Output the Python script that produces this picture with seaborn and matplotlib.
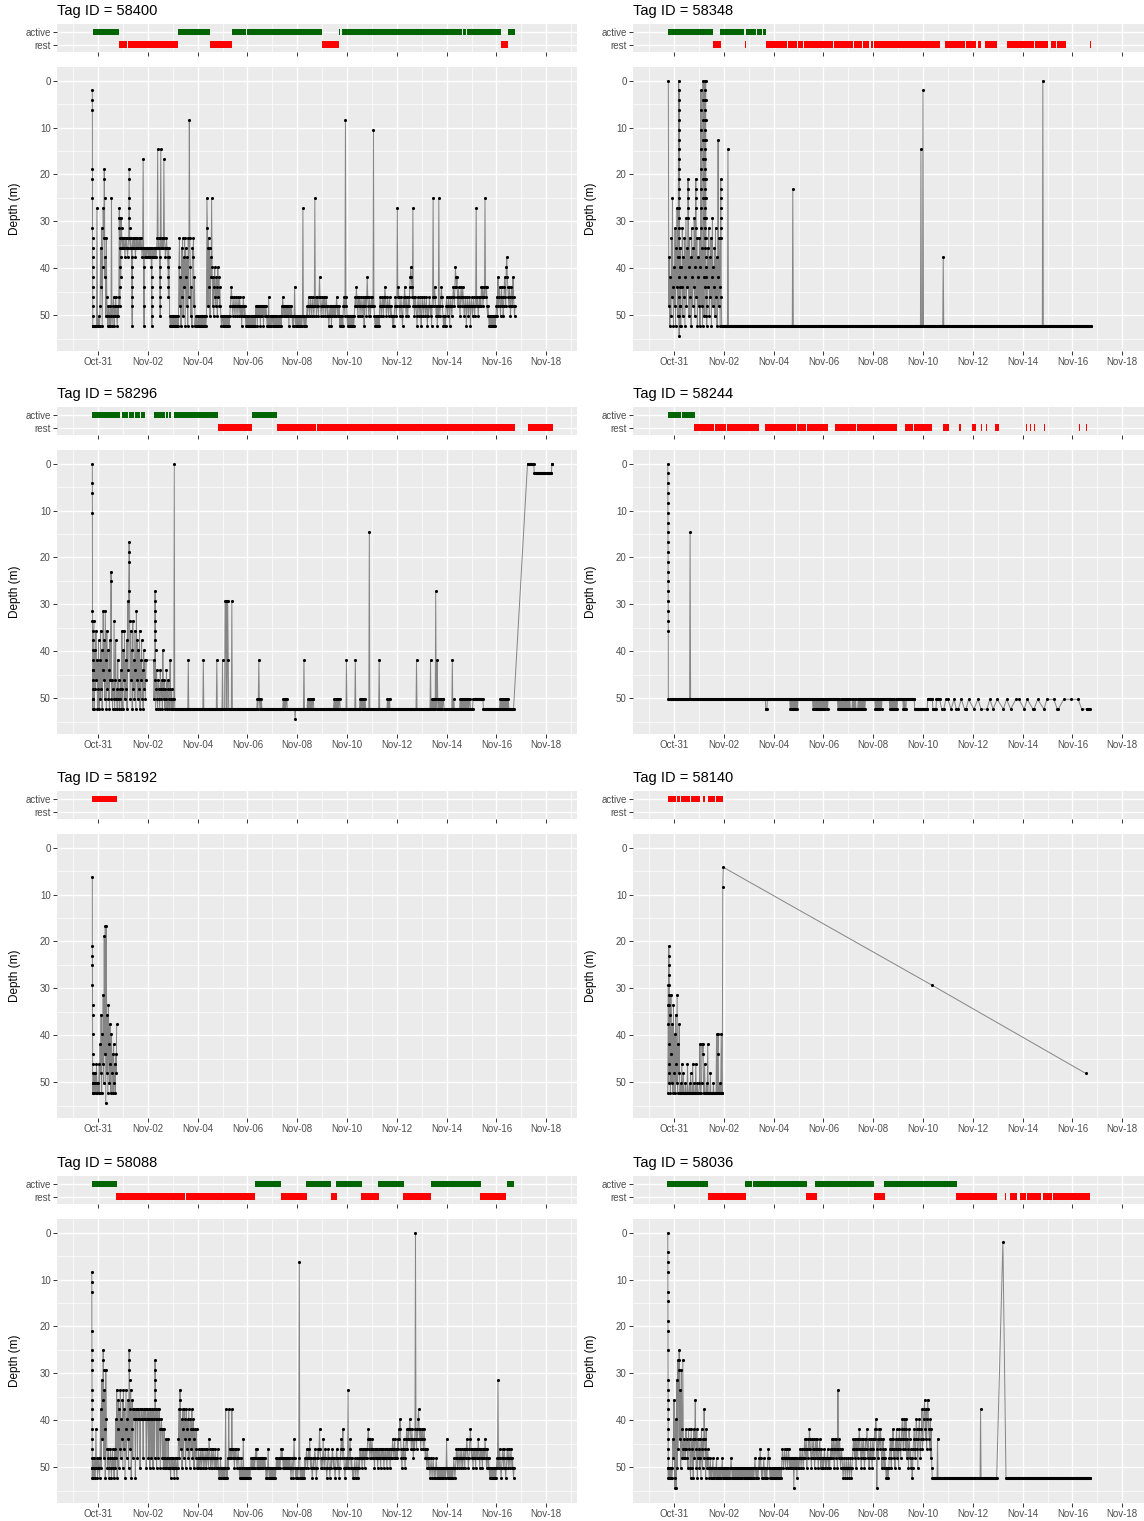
import numpy as np
import pandas as pd
import matplotlib
matplotlib.use("Agg")
import matplotlib.pyplot as plt
import matplotlib.dates as mdates
from matplotlib.ticker import FixedLocator
import seaborn as sns

# ---------------------------------------------------------------------------
# Depth records: one string per calendar day starting 30 Oct, one character per
# 30-min slot (48 per day).  Each character is a pressure-sensor count (depth =
# count * DEPTH_STEP); "." = no reading; a [...] group holds several readings
# logged within the same slot.
# ---------------------------------------------------------------------------
YEAR = 2016
DAY0 = pd.Timestamp(f"{YEAR}-10-30")
ORIGIN = pd.Timestamp(f"{YEAR}-10-31")
SLOT_MIN = 30
SLOTS_PER_DAY = 48
DEPTH_STEP = 2.092
LEVEL_CODES = "0123456789ABCDEFGHIJKLMNOPQ"

TAG_IDS = [58400, 58348, 58296, 58244, 58192, 58140, 58088, 58036]

DEPTH_58400 = [
    "." * 37 + "[1239ACFGHIJKLMNOP]PPPPPPPPDP",
    "POPP" + "NHLFPJDG[9AC]KIOGM" + "OPNOPNPOCPONMPN" + "OMNOPNO" + "M[DEFHJL]N[EGIK]H[EF]GH",
    "GHGHIGHGHIHG" + "[9ACDEF]" + "GHGH" + "[IJKLMNP]" + "HGHGHGIHGHGHHGHGHGHIH" + "8" + "[JLNP]" + "HIHIHIH",
    "HIHIHIH[JKLMNOP]IHIHIHIHIH" + "G7HGH[IJKLMNO]G7HGHGH8GHIHGHI[JKLM]HI" + "OPOPOP",
    "OPOPOPOPOPOP" + "JGNKPHMGOILGPHKNIPGM" + "4" + "GJOLPHIGNKP" + "OPOP",
    "POPOPOPOPOPOPOPOPO" + "C[FH]NGLHOIKCJNKOLJMNKLOJMKNL" + "NOPO",
    "OPOPOPOPOPOPOPO" + "NMLMNONMNONMNONMNOMNONPNOMNON" + "OPOP",
    "OPOPOPOPOPOPOPOP" + "NONPNONONPNONONPNONONO" + "POPMPOPOPO",
    "OPOPOPOPOPOPOPOPOP" + "NOMNONONONONONPNONON" + "OPOPOLOPOP",
    "OPOPOPOPOPO" + "D" + "OPOPOPO" + "NONMNONMNONMNONCNMONMNOMKMNON",
    "MNOMNMONMNONO" + "PO" + "NONPNONONONONMNONONP" + "OPOPOP" + "NMNO4NM",
    "OPOPOPOPOPOPOPO" + "NMNLMNOMNMONMNONMNPMNMOMKMNOMNONM",
    "NMN" + "5" + "NOPOPOPOPOP" + "NMNONMNOMNLMNONMNONMNONO" + "OPOPO" + "NMNO",
    "NDMLMNONMNOPNMNLMNOMNONMNLKJKLMDNMONMNOPNMNONMOP",
    "NMNONMNONMOPNONMNONPNMCNMLMNONPNOCNONMLMNOPOPOPN",
    "MNONMNPNMNONMLMNLJKLKMNLMNOMLMNLMNONMNPNMNONMNPN",
    "MNONMNONMDNMNONMNMNLMLNMLMCLMLNONOPOPOPOPOPOPOPO",
    "NMOKNMLNOMLNMONLKMNJIKLMNLMONLMNKMNON",
]

DEPTH_58348 = [
    "." * 37 + "0NIPKOGMCLP",
    "JNFPHLDOI" + "[02468ACEGIKMOQ]" + "[13579BDFHJLNP]"
    + "NHPJLFOIMGPKENHL[ABCDE]JOGMIPFKNHLEOJ[ABCDF]MGPIK",
    "NGPJ" + "[13579BDF]" + "NHP[02468ACE]KO[0123456789ABCDEFGH]L[0246ACEGIKMO]JP"
    + "NHLFOIMGPKENJLHOFMIPK6NGLP[ABCDEFG]M" + "PPPP",
    "P" * 8 + "7" + "P" * 39,
    "P" * 48,
    "P" * 37 + "B" + "P" * 10,
    "P" * 48,
    "P" * 48,
    "P" * 48,
    "P" * 48,
    "P" * 44 + "7" + "P" * 3,
    "1" + "P" * 38 + "I" + "P" * 8,
    "P" * 48,
    "P" * 48,
    "P" * 48,
    "P" * 39 + "0" + "P" * 8,
    "P" * 48,
    "P" * 37,
]

DEPTH_58296 = [
    "." * 37 + "[0235FGHIJKLMNOP]" + "LOGPJNHMKP",
    "NIPKO" + "HNJPLFMIOFKPHNJOLPIM" + "[BC]" + "OMPNOGPMIONPKOMPNOLP" + "HN",
    "PJMHOKNIPELD[89A]GOHMJPGNKOHLPFMIOJNHPKMIOLPJNKOMK..",
    "..........." + "KOM[DEFGHIJ]PNLOPMNOPLNOMPJNOMPNOLPNMOPNKOPNP",
    "OPO0" + "P" * 26 + "K" + "P" * 17,
    "P" * 11 + "K" + "P" * 25 + "K" + "P" * 10,
    "KPPPPEEPEPEKPPPPPPE" + "P" * 29,
    "P" * 19 + "OPOKOPOPO" + "P" * 20,
    "P" * 21 + "OPOPOPOO" + "P" * 15 + "Q" + "PPP",
    "P" * 13 + "K" + "P" * 6 + "OPOPOPOPOPOO" + "P" * 16,
    "P" * 23 + "OPOPOPOPOPOO" + "P" * 12 + "K",
    "P" * 16 + "K" + "P" * 8 + "OPOPOPOPOPO" + "P" * 7 + "7" + "P" * 4,
    "P" * 14 + "K" + "P" * 15 + "OPOPO" + "P" * 13,
    "P" * 38 + "K" + "P" * 9,
    "P" * 17 + "K" + "P" + "OPOPOPOPDOPKOPOPOPOPOPOO" + "P" * 5,
    "P" * 11 + "K" + "PP" + "O" + "P" * 11 + "OPOPOPOPOPOPOPOPOPOO" + "PP",
    "PPP" + "O" * 20 + "P" * 25,
    "P" * 7 + "OPOPOPOPOPOPOPOPO" + "P" * 10,
    "." * 12 + "0" * 13 + "1" * 23,
    "1" * 11 + "00",
]

DEPTH_58244 = [
    "." * 36 + "[0123456789ABCDEFGH]" + "O" * 11,
    "O" * 31 + "7" + "O" * 16,
    "O" * 48,
    "O" * 48,
    "O" * 33 + "PPP" + "O" * 12,
    "O" * 32 + "POPOPOPOPOPOPOPO",
    "O" * 28 + "POPOPOPOPOPOPOPOPOPO",
    "POPOPOPOP" + "O" * 19 + "POPOPOPOPOPOPOPOPOPO",
    "POPOPPPPOPOPOPOPPPPOPOPOPOPOPOPOPO" + "O" * 14,
    "OOOO" + "POPOPOPOPOPOPO" + "O" * 14 + "POPOPOPOPOPOPOP" + "O",
    "O" * 10 + "POPOPP" + "O" * 16 + "P" * 16,
    "P" * 9 + "O" * 10 + "P" * 7 + "O" * 7 + "...P...P...O....",
    "O.....P.....O...P...P.....O.....P.PP....O.......",
    "..P.......O.....P..........P.....O.....P.......O",
    "...........P.....O.......P.........O.....O......",
    "...P.....O..........P.P......O...........P.....O",
    "............O......P.P.........O..............O.",
    "...........O......P.........PPPPPP",
]

DEPTH_58192 = [
    "." * 37 + "[3ABCEGHJLMNOP]" + "PONPNOPMOP",
    "OPMPKNHPJMFO9L8Q8NHPGKOIMPJNLPKOMPLNI",
]

DEPTH_58140 = [
    "." * 36 + "P[EGIKMO][ABCDEFG]NHPFLOIPG",
    "NJPHMOFPKNI" + "PPOPMPPNPPPOPPPMPPPOPNPPPMPOPPPMPPOPP",
    "POKPPOKLKPPMPPPOPKPPPPNPPPPPOPPPPPJPLJPPOPPJPP42",
    "", "", "", "", "", "", "", "",
    "." * 17 + "E",
    "", "", "", "", "",
    "." * 26 + "N",
]

DEPTH_58088 = [
    "." * 36 + "[456ACDEGHIJKLMNOP]" + "ONPONPOKONP",
    "ONOPN" + "IOFLH[CDE]NGKPEJM" + "ONMPONMOPNMONPMO" + "JNGPKHOIMGNJLH",
    "OGMIPKGNJLHO[CDEF]IMGPKHNIJIJPIJINJIJIOJIJIJNIJIJIOJI",
    "JNIJOIJNIJOIJN[DEFGH]JIOJINJIKOKJKNKONKONLONOLNONOPNON",
    "ONOPNONOPNOLIN[GH]IMJOIKNILJOIMKJNILOJKMINKJOLKNMKO",
    "NOMNONMONMNOMNONMONMNOLMNONMONMNONMONONMOPOPNOPO",
    "POPOPOIPOPNOINMNMNIMNMNOMNMNONMNOPOPNPOPLPOPOPOP",
    "OPOPOPONONONONONMNMONONONONONONONONOPOPOMOPOPOPO",
    "POPOPOPONONONONONMNMNONONONONONONONOPONOPNLNOPOP",
    "OPON3OPOPOPOPOPNONMNONMNLNONOPONONMNOPONMNMKMNON",
    "ONLNONMNOPONMNOPONONMNONOPONMNONOPONMLMNKMNOPONO",
    "NOGONMLNONOPOPONOPONOPONOMNMNOMNMNOMNMNMLKLMNLMN",
    "LMNMNOMNMNMONMNMNOMNMNMONMNMNOMNMNMONMNMLMNMLNMN",
    "MNLMKLJKMNOMNLMNOMLKMLKLKJKLMKLMNLMK0LMKLJIKLKML",
    "KLKMLKMNMNOMNONOPONOPONOPOPONOPOPOPOPOPOPOPOPOPO",
    "LOPOPOPOPOPOPONOPONMNOMNONMNOMNONMNOMNMLMNONMLKM",
    "NMNOMNMNOMNMNLMNOMNMNOMNMNLMNOMNONOPOPOPOPOPOPOP",
    "ONOFNOMNOPONMNOMNOPONMNOMNONMNONOPO",
]

DEPTH_58036 = [
    "." * 36 + "[0234679ACFGHIJKLMNOP]" + "OPOPOPOPOLN",
    "HPQJQFODME[CD]LGOEKNDMNLMNKMLNOKMLOPKMOLPKNLHMOKPLN",
    "MOLNPKMOLNILMPKNOMNOPONPOPONPOPOPONPOPOPOPOPONPO",
    "POPOPOPOPOPOPONO" + "POPOPOPOPOPOPOPOPOPOPOPOPOPOPOPO",
    "POPOPOPOPOPONOPOPOPONO" + "M" + "NOPOPONOPOPOPON" + "M" + "NOPOPOPOP",
    "OPOPOPOPOPOPOPOP" + "NMNONMNONMNONMNONONONONQNONONPNO",
    "NONMNONMNONMLNMLOMNLMKLMNOLMNLMONLMNLMONMLNOMNON",
    "ONMNONONMNONONMNLMNLMOLMNLMOGMNLMONMNOPONOPONOPO",
    "NOPONOPONMLMNLMOLMNLMKLMNOLMNLMONLMLKMNLOMNLMNOL",
    "MNLKLJKQMLNKLMKLNOMLNOMNOPOPOPONMLNOLMKLNMOLMKNL",
    "MOKLMNLKJLMKJLMJKNLMOKLNMONPOMLKMNLJKMOLKJMNLKIM",
    "LJIHKLIMJHIKLMJNKO" + "P" * 10 + "L" + "P" * 19,
    "P" * 48,
    "P" * 15 + "I" + "P" * 31 + ".",
    "." * 10 + "1" + "." * 5 + "P" * 32,
    "P" * 48,
    "P" * 48,
    "P" * 35,
]

DEPTH_RECORDS = {
    58400: DEPTH_58400, 58348: DEPTH_58348, 58296: DEPTH_58296, 58244: DEPTH_58244,
    58192: DEPTH_58192, 58140: DEPTH_58140, 58088: DEPTH_58088, 58036: DEPTH_58036,
}

# ---------------------------------------------------------------------------
# Behaviour classification: (start, end) in days after 31 Oct 00:00
# ---------------------------------------------------------------------------
ACTIVE_58400 = [(-0.22, 0.85), (3.22, 4.50), (5.37, 5.95), (5.97, 7.94), (7.96, 8.99),
                (9.69, 9.71), (9.81, 11.64), (11.66, 11.79), (11.81, 14.62),
                (14.64, 14.79), (14.81, 16.20), (16.45, 16.75)]
REST_58400 = [(0.85, 0.95), (0.97, 1.18), (1.20, 2.00), (2.02, 2.15), (2.17, 3.22),
              (4.50, 4.97), (4.99, 5.37), (8.99, 9.43), (9.45, 9.55), (9.57, 9.66),
              (16.20, 16.45)]

ACTIVE_58348 = [(-0.24, 1.57), (1.85, 2.55), (2.57, 2.80), (2.91, 3.30), (3.32, 3.55),
                (3.57, 3.71)]
REST_58348 = [(1.55, 1.89), (2.87, 2.90), (3.68, 4.55), (4.57, 4.95), (4.97, 5.20),
              (5.22, 5.65), (5.68, 6.40), (6.42, 6.62), (6.64, 7.20), (7.22, 7.55),
              (7.58, 7.70), (7.73, 7.85), (7.90, 8.00), (8.05, 10.20), (10.22, 10.67),
              (10.88, 11.35), (11.38, 11.70), (11.73, 12.12), (12.19, 12.31),
              (12.49, 12.98), (13.37, 13.60), (13.62, 14.45), (14.48, 15.00),
              (15.14, 15.35), (15.38, 15.73), (16.09, 16.11), (16.45, 16.47),
              (16.58, 16.60), (16.70, 16.74)]

ACTIVE_58296 = [(-0.25, 0.89), (0.98, 1.20), (1.23, 1.45), (1.48, 1.70), (1.73, 1.89),
                (2.23, 2.70), (2.74, 2.80), (2.84, 2.94), (3.05, 4.83), (6.17, 7.18)]
REST_58296 = [(4.80, 6.20), (7.18, 8.77), (8.81, 9.26), (9.28, 16.75), (17.27, 18.27)]

ACTIVE_58244 = [(-0.24, 0.03), (0.05, 0.29), (0.31, 0.55), (0.57, 0.84)]
REST_58244 = [(0.80, 1.60), (1.63, 2.10), (2.13, 2.60), (2.63, 3.41), (3.65, 4.20),
              (4.23, 4.90), (4.93, 5.30), (5.33, 6.18), (6.47, 7.30), (7.33, 7.90),
              (7.93, 8.50), (8.53, 8.96), (9.28, 9.60), (9.63, 9.90), (9.93, 10.36),
              (10.80, 11.04), (11.45, 11.53), (11.97, 12.13), (12.33, 12.37),
              (12.53, 12.57), (12.89, 13.05), (14.14, 14.18), (14.30, 14.34),
              (14.46, 14.50), (14.86, 14.90), (16.27, 16.31), (16.55, 16.59)]

ACTIVE_58192 = [(-0.24, 0.76)]
REST_58192 = []

ACTIVE_58140 = [(-0.24, 0.08), (0.12, 0.24), (0.28, 0.64), (0.68, 1.04), (1.16, 1.24),
                (1.37, 1.65), (1.69, 1.97)]
REST_58140 = []

ACTIVE_58088 = [(-0.25, 0.77), (2.32, 2.34), (6.32, 7.33), (8.36, 8.59), (8.61, 9.36),
                (9.55, 9.66), (9.69, 10.59), (11.26, 12.29), (13.37, 15.38),
                (16.42, 16.71)]
REST_58088 = [(0.74, 3.50), (3.52, 6.32), (7.33, 8.39), (9.37, 9.58), (10.58, 11.29),
              (12.26, 13.37), (15.35, 16.39)]

ACTIVE_58036 = [(-0.27, 1.38), (2.84, 3.14), (3.16, 5.36), (5.68, 8.04), (8.43, 11.37)]
REST_58036 = [(1.35, 2.04), (2.06, 2.88), (5.32, 5.73), (8.04, 8.47), (11.34, 12.98),
              (13.30, 13.32), (13.49, 13.78), (13.88, 14.15), (14.17, 14.74),
              (14.82, 15.20), (15.22, 16.70)]

BEHAVIOUR = {
    58400: (ACTIVE_58400, REST_58400), 58348: (ACTIVE_58348, REST_58348),
    58296: (ACTIVE_58296, REST_58296), 58244: (ACTIVE_58244, REST_58244),
    58192: (ACTIVE_58192, REST_58192), 58140: (ACTIVE_58140, REST_58140),
    58088: (ACTIVE_58088, REST_58088), 58036: (ACTIVE_58036, REST_58036),
}
GREEN = "#006400"
RED = "#FF0000"
ACTIVE_COLOUR = {58400: GREEN, 58348: GREEN, 58296: GREEN, 58244: GREEN,
                 58192: RED, 58140: RED, 58088: GREEN, 58036: GREEN}

STATE_LABELS = ["rest", "active"]
MAJOR_DATES = ["10-31", "11-02", "11-04", "11-06", "11-08", "11-10", "11-12",
               "11-14", "11-16", "11-18"]
MINOR_DATES = ["10-30", "11-01", "11-03", "11-05", "11-07", "11-09", "11-11",
               "11-13", "11-15", "11-17", "11-19"]
DEPTH_TICKS = [0, 10, 20, 30, 40, 50]
DEPTH_MINOR = [5, 15, 25, 35, 45, 55]


def decode(rows):
    times, depths = [], []
    for d, row in enumerate(rows):
        slots, i = [], 0
        while i < len(row):
            if row[i] == "[":
                j = row.index("]", i)
                slots.append(row[i + 1:j])
                i = j + 1
            else:
                slots.append(row[i])
                i += 1
        for s, group in enumerate(slots[:SLOTS_PER_DAY]):
            n = len(group)
            for k, code in enumerate(group):
                if code == ".":
                    continue
                t = DAY0 + pd.Timedelta(days=d) + pd.Timedelta(minutes=SLOT_MIN * (s + k / n))
                times.append(t)
                depths.append(LEVEL_CODES.index(code) * DEPTH_STEP)
    return pd.DataFrame({"x": mdates.date2num(pd.to_datetime(times)), "depth": depths})


def day_num(mmdd):
    return mdates.date2num(pd.Timestamp(f"{YEAR}-{mmdd}"))


ORIGIN_NUM = mdates.date2num(ORIGIN)
X_MIN = ORIGIN_NUM - 1.647
X_MAX = ORIGIN_NUM + 19.237

sns.set_theme(style="darkgrid", rc={"axes.facecolor": "#EBEBEB", "grid.color": "white"})
plt.rcParams["font.family"] = ["Liberation Sans", "DejaVu Sans"]

W, H = 1144, 1521
fig = plt.figure(figsize=(W / 100, H / 100), dpi=100)
fig.patch.set_facecolor("white")

COL_X = [57, 633]
PANEL_W = 520
ROW_OFF = [0, 383, 767, 1152]


def box(x0, y0, w, h):
    return [x0 / W, 1 - (y0 + h) / H, w / W, h / H]


def style_x(ax):
    ax.set_xlim(X_MIN, X_MAX)
    ax.xaxis.set_major_locator(FixedLocator([day_num(d) for d in MAJOR_DATES]))
    ax.xaxis.set_minor_locator(FixedLocator([day_num(d) for d in MINOR_DATES]))
    ax.xaxis.set_major_formatter(mdates.DateFormatter("%b-%d"))
    ax.grid(True, which="major", color="white", linewidth=1.0)
    ax.grid(True, which="minor", color="white", linewidth=0.5)
    ax.set_axisbelow(True)
    for sp in ax.spines.values():
        sp.set_visible(False)
    ax.tick_params(which="major", bottom=True, left=True, length=3, width=0.7,
                   color="#333333", labelsize=7, labelcolor="#4D4D4D", pad=1.5)
    ax.tick_params(which="minor", bottom=False, left=False, length=0)


for idx, tag in enumerate(TAG_IDS):
    col, row = idx % 2, idx // 2
    x0, off = COL_X[col], ROW_OFF[row]

    fig.text(x0 / W, 1 - (11 + off) / H, f"Tag ID = {tag}", fontsize=10.5,
             ha="left", va="center", color="black")

    # behaviour strip
    sax = fig.add_axes(box(x0, 24 + off, PANEL_W, 28.3))
    style_x(sax)
    active, rest = BEHAVIOUR[tag]
    for level, spans, colour in [(2, active, ACTIVE_COLOUR[tag]), (1, rest, RED)]:
        if spans:
            sax.broken_barh([(ORIGIN_NUM + a, b - a) for a, b in spans],
                            (level - 0.24, 0.48), facecolors=colour, edgecolors="none")
    sax.set_ylim(0.4, 2.6)
    sax.set_yticks([1, 2])
    sax.set_yticklabels(STATE_LABELS)
    sax.yaxis.grid(True, which="major", color="white", linewidth=1.0)
    sax.tick_params(axis="x", labelbottom=False)
    sax.set_xlabel("")
    sax.set_ylabel("")

    # depth profile
    dax = fig.add_axes(box(x0, 67 + off, PANEL_W, 284))
    df = decode(DEPTH_RECORDS[tag])
    sns.lineplot(data=df, x="x", y="depth", estimator=None, sort=False,
                 color="#858585", linewidth=0.7, ax=dax, legend=False)
    sns.scatterplot(data=df, x="x", y="depth", color="black", s=5, linewidth=0,
                    ax=dax, legend=False, zorder=3)
    style_x(dax)
    dax.set_ylim(57.6, -2.9)
    dax.yaxis.set_major_locator(FixedLocator(DEPTH_TICKS))
    dax.yaxis.set_minor_locator(FixedLocator(DEPTH_MINOR))
    dax.set_xlabel("")
    dax.set_ylabel("Depth (m)", fontsize=8.5, color="black")
    dax.yaxis.set_label_coords(-36 / PANEL_W, 0.5)

fig.savefig("out.png", dpi=100, facecolor="white")
